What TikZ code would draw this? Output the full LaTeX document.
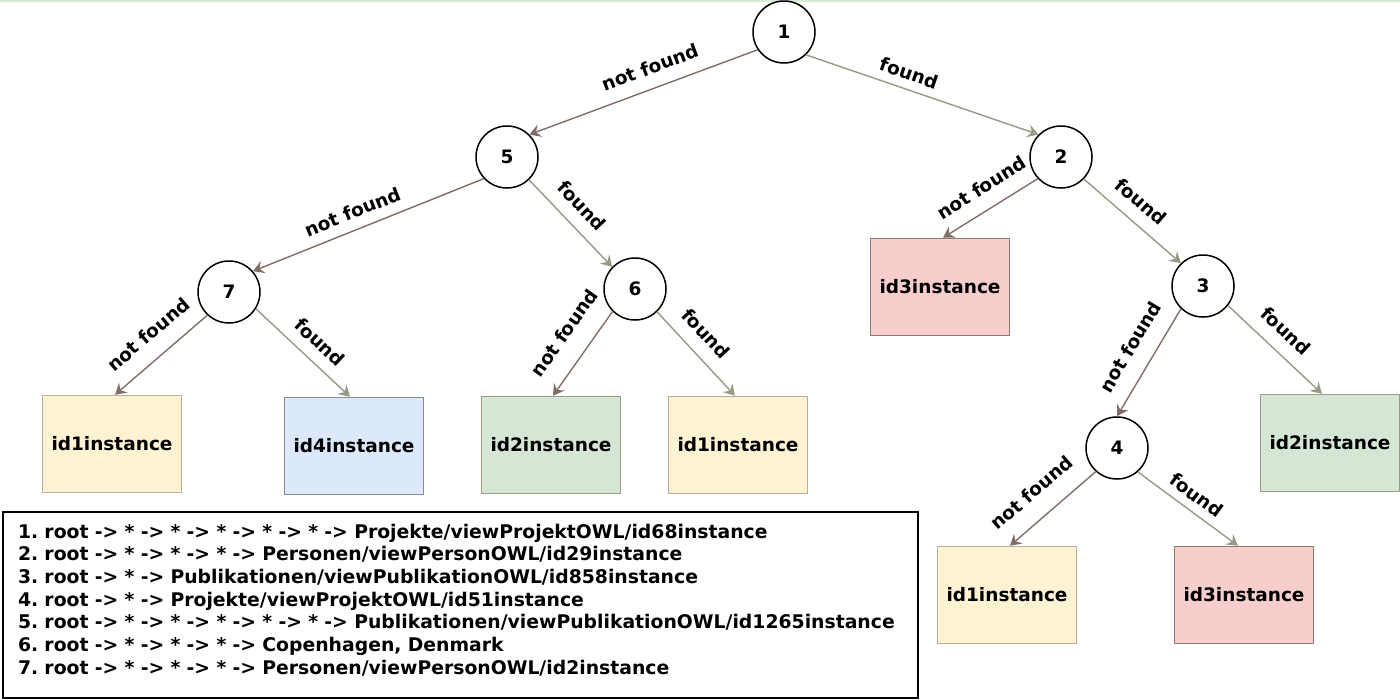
\documentclass[tikz,border=0pt]{standalone}
\usepackage{fontspec}
\setmainfont{DejaVu Sans}
\usetikzlibrary{arrows.meta}
\definecolor{nfcol}{RGB}{128,110,102}
\definecolor{fdcol}{RGB}{152,152,134}
\definecolor{yelfill}{RGB}{253,242,209}
\definecolor{yeldraw}{RGB}{184,174,150}
\definecolor{bluefill}{RGB}{220,232,251}
\definecolor{bluedraw}{RGB}{140,140,140}
\definecolor{grnfill}{RGB}{214,230,213}
\definecolor{grndraw}{RGB}{156,156,136}
\definecolor{redfill}{RGB}{247,206,204}
\definecolor{reddraw}{RGB}{136,126,118}
\definecolor{topline}{RGB}{214,234,216}

\begin{document}
\begin{tikzpicture}[x=1pt, y=-1pt,
    every node/.style={font=\fontsize{18.5}{22}\selectfont\bfseries},
    test/.style={circle, draw=black, line width=1.5pt, minimum size=62pt, inner sep=0pt},
    result/.style={rectangle, line width=1.5pt, minimum width=139pt, minimum height=97pt, inner sep=0pt},
    yel/.style={result, fill=yelfill, draw=yeldraw},
    blu/.style={result, fill=bluefill, draw=bluedraw},
    grn/.style={result, fill=grnfill, draw=grndraw},
    red/.style={result, fill=redfill, draw=reddraw},
    nf/.style={draw=nfcol, line width=1.4pt, -{Stealth[length=11pt, width=13pt, inset=4pt]}},
    fd/.style={draw=fdcol, line width=1.4pt, -{Stealth[length=11pt, width=13pt, inset=4pt]}},
    lab/.style={sloped, text=black},
    legend/.style={draw=black, line width=2pt, anchor=north west, minimum width=915pt,
        minimum height=186pt, text width=885pt, inner xsep=15pt, align=left,
        font=\fontsize{18.8}{22.7}\selectfont\bfseries\frenchspacing}]
    \useasboundingbox (0,0) rectangle (1400,699);
    \draw[topline, line width=2pt] (0,1) -- (1400,1);

    % decision nodes
    \node[test] (n1) at (784,32) {1};
    \node[test] (n5) at (507,157) {5};
    \node[test] (n2) at (1061,157) {2};
    \node[test] (n7) at (229,292) {7};
    \node[test] (n6) at (635,289) {6};
    \node[test] (n3) at (1203,286) {3};
    \node[test] (n4) at (1117,448) {4};

    % results
    \node[red] (b23) at (940,287) {id3instance};
    \node[yel] (b71) at (112,444) {id1instance};
    \node[blu] (b74) at (354,446) {id4instance};
    \node[grn] (b62) at (551,445) {id2instance};
    \node[yel] (b61) at (738,445) {id1instance};
    \node[grn] (b32) at (1330,443) {id2instance};
    \node[yel] (b41) at (1007,595) {id1instance};
    \node[red] (b43) at (1244,595) {id3instance};

    % edges
    \draw[nf] (n1.214) -- (n5.45) node[lab, pos=0.44, above=10pt] {not found};
    \draw[fd] (n1.314) -- (n2.135) node[lab, pos=0.42, above=5pt] {found};
    \draw[nf] (n5.223) -- (n7.41) node[lab, pos=0.54, above=7pt] {not found};
    \draw[fd] (n5.314) -- (n6.136) node[lab, pos=0.46, above=9pt] {found};
    \draw[nf] (n2.223) -- ([xshift=3pt]b23.north) node[lab, pos=0.47, above=11pt] {not found};
    \draw[fd] (n2.316) -- (n3.134) node[lab, pos=0.45, above=9pt] {found};
    \draw[nf] (n7.227) -- ([xshift=3pt]b71.north) node[lab, pos=0.47, above=13pt] {not found};
    \draw[fd] (n7.328) -- ([xshift=-4pt]b74.north) node[lab, pos=0.54, above=8pt] {found};
    \draw[nf] (n6.225) -- ([xshift=2pt]b62.north) node[lab, pos=0.44, above=16pt] {not found};
    \draw[fd] (n6.314) -- ([xshift=-3pt]b61.north) node[lab, pos=0.43, above=10pt] {found};
    \draw[nf] (n3.226) -- (n4.north) node[lab, pos=0.47, above=13pt] {not found};
    \draw[fd] (n3.322) -- ([xshift=-8pt]b32.north) node[lab, pos=0.46, above=10pt] {found};
    \draw[nf] (n4.228) -- ([xshift=3pt]b41.north) node[lab, pos=0.55, above=15pt] {not found};
    \draw[fd] (n4.311) -- ([xshift=-6pt]b43.north) node[lab, pos=0.49, above=5pt] {found};

    % legend
    \node[legend] (key) at (2,511) {1. root -> * -> * -> * -> * -> * -> Projekte/viewProjektOWL/id68instance\\
        2. root -> * -> * -> * -> Personen/viewPersonOWL/id29instance\\
        3. root -> * -> Publikationen/viewPublikationOWL/id858instance\\
        4. root -> * -> Projekte/viewProjektOWL/id51instance\\
        5. root -> * -> * -> * -> * -> * -> Publikationen/viewPublikationOWL/id1265instance\\
        6. root -> * -> * -> * -> Copenhagen, Denmark\\
        7. root -> * -> * -> * -> Personen/viewPersonOWL/id2instance\rule[-12pt]{0pt}{12pt}};
\end{tikzpicture}
\end{document}
